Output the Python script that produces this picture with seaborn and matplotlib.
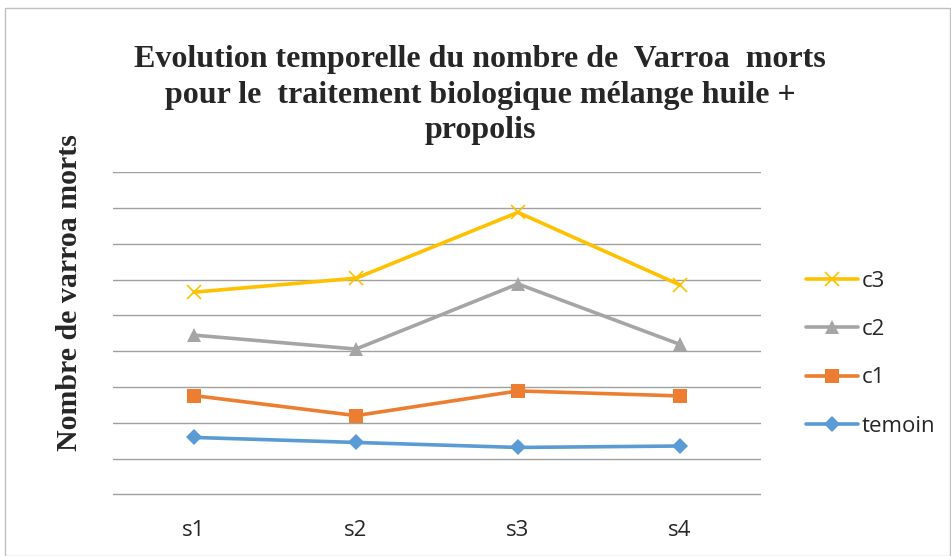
import matplotlib
matplotlib.use("Agg")
import matplotlib.pyplot as plt
import seaborn as sns
import pandas as pd
from matplotlib.patches import Rectangle

semaines = ["s1", "s2", "s3", "s4"]
temoin = [1.59, 1.45, 1.31, 1.35]
c1 = [2.76, 2.20, 2.89, 2.75]
c2 = [4.45, 4.06, 5.88, 4.19]
c3 = [5.65, 6.04, 7.88, 5.85]
series_names = ["temoin", "c1", "c2", "c3"]

title = "Evolution temporelle du nombre de  Varroa  morts\npour le  traitement biologique mélange huile +\npropolis"
ylabel = "Nombre de varroa morts"

sns.set_theme(style="white")

rows = []
for name, vals in zip(series_names, [temoin, c1, c2, c3]):
    for s, v in zip(semaines, vals):
        rows.append({"semaine": s, "valeur": v, "serie": name})
df = pd.DataFrame(rows)

colors = {"temoin": "#5B9BD5", "c1": "#ED7D31", "c2": "#A5A5A5", "c3": "#FFC000"}
markers = {"temoin": "D", "c1": "s", "c2": "^", "c3": "x"}
msizes = {"temoin": 8.5, "c1": 9.5, "c2": 10, "c3": 10}

fig = plt.figure(figsize=(9.51, 5.56), dpi=100)
ax = fig.add_axes([0.1188, 0.1077, 0.6814, 0.5824])

x_pos = {s: i for i, s in enumerate(semaines)}
df["x"] = df["semaine"].map(x_pos)

for name in series_names:
    sub = df[df["serie"] == name]
    sns.lineplot(data=sub, x="x", y="valeur", ax=ax, color=colors[name],
                 marker=markers[name], markersize=msizes[name],
                 markeredgecolor=colors[name], markeredgewidth=1.2 if name == "c3" else 0,
                 linewidth=2.6, label=name, legend=False, zorder=3)

ax.set_xlim(-0.5, len(semaines) - 0.5)
ax.set_ylim(-0.05, 9)
ax.set_yticks(range(0, 10))
ax.set_yticklabels([])
ax.tick_params(axis="y", length=0)
ax.set_xticks(range(len(semaines)))
ax.set_xticklabels(semaines, fontsize=16, family="Open Sans")
ax.tick_params(axis="x", length=0, pad=17)
ax.grid(axis="y", color="#A0A0A0", linewidth=1.0)
ax.grid(axis="x", visible=False)
for sp in ax.spines.values():
    sp.set_visible(False)
ax.set_xlabel("")
ax.set_ylabel("")

fig.text(0.505, 0.829, title, ha="center", va="center", fontsize=23,
         fontweight="bold", family="Liberation Serif", linespacing=1.30)
fig.text(0.073, 0.473, ylabel, ha="center", va="center", rotation=90,
         fontsize=21.5, fontweight="bold", family="Liberation Serif")

handles, labels = [], []
for name in ["c3", "c2", "c1", "temoin"]:
    h = plt.Line2D([], [], color=colors[name], marker=markers[name],
                   markersize=msizes[name], linewidth=2.6,
                   markeredgecolor=colors[name],
                   markeredgewidth=1.2 if name == "c3" else 0)
    handles.append(h)
    labels.append(name)
fig.legend(handles, labels, loc="upper left", bbox_to_anchor=(0.827, 0.549),
           frameon=False, prop={"family": "Open Sans", "size": 16},
           handlelength=2.3, handletextpad=0.2, labelspacing=1.23)

fig.patches.append(Rectangle((0.005, 0.0), 0.994, 0.985, transform=fig.transFigure,
                             fill=False, edgecolor="#BFBFBF", linewidth=1.0))

fig.savefig("out.png", dpi=100)
